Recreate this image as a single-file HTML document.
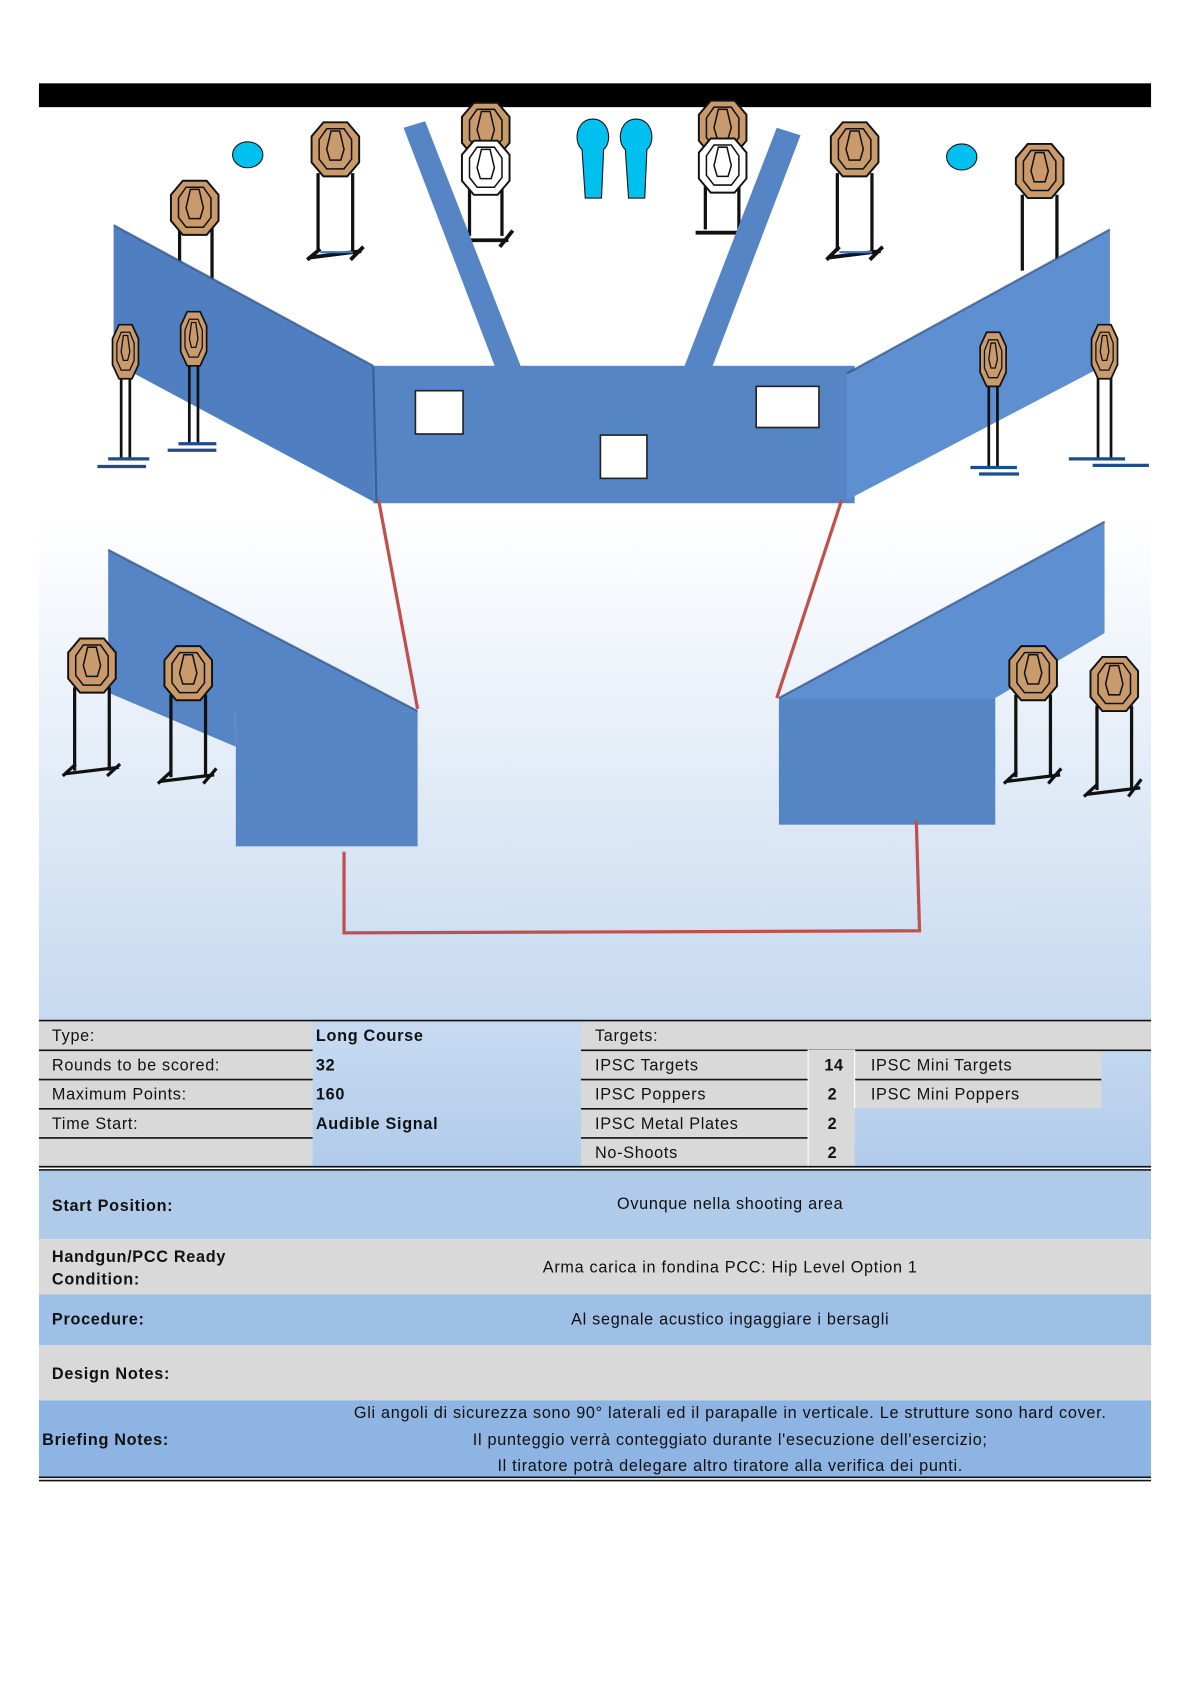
<!DOCTYPE html>
<html><head><meta charset="utf-8"><style>
html,body{margin:0;padding:0;background:#fff;}
svg{display:block;}
text{font-family:"Liberation Sans",Arial,sans-serif;fill:#111;letter-spacing:0.65px;}
</style></head><body>
<svg width="1190" height="1684" viewBox="0 0 1100 1556" preserveAspectRatio="none" xmlns="http://www.w3.org/2000/svg">
<defs>
<linearGradient id="bg" x1="0" y1="0" x2="0" y2="1">
<stop offset="0" stop-color="#ffffff"/>
<stop offset="0.45" stop-color="#ffffff"/>
<stop offset="1" stop-color="#c6d9f0"/>
</linearGradient>
<linearGradient id="tb" x1="0" y1="0" x2="0" y2="1">
<stop offset="0" stop-color="#c8dbf2"/>
<stop offset="1" stop-color="#b0cbea"/>
</linearGradient>
<g id="tg">
<polygon points="-11,-25 11,-25 22,-12 22,12 11,25 -11,25 -22,12 -22,-12" fill="#c99a6c" stroke="#111" stroke-width="1.8"/>
<polygon points="-8,-19 8,-19 15,-9 15,9 8,18 -8,18 -15,9 -15,-9" fill="none" stroke="#111" stroke-width="1.4"/>
<path d="M-4,-17 L4,-17 L8,0 L5,10 L-5,10 L-8,0 Z" fill="none" stroke="#111" stroke-width="1.4"/>
</g>
<g id="ns">
<polygon points="-11,-25 11,-25 22,-12 22,12 11,25 -11,25 -22,12 -22,-12" fill="#fff" stroke="#111" stroke-width="1.8"/>
<polygon points="-8,-19 8,-19 15,-9 15,9 8,18 -8,18 -15,9 -15,-9" fill="none" stroke="#111" stroke-width="1.4"/>
<path d="M-4,-17 L4,-17 L8,0 L5,10 L-5,10 L-8,0 Z" fill="none" stroke="#111" stroke-width="1.4"/>
</g>
<g id="mt">
<polygon points="-6,-25 6,-25 12,-12 12,12 6,25 -6,25 -12,12 -12,-12" fill="#c99a6c" stroke="#111" stroke-width="1.6"/>
<polygon points="-4,-18 4,-18 8,-8 8,8 4,17 -4,17 -8,8 -8,-8" fill="none" stroke="#111" stroke-width="1.2"/>
<path d="M-2,-15 L2,-15 L4,0 L2,8 L-2,8 L-4,0 Z" fill="none" stroke="#111" stroke-width="1.2"/>
</g>
</defs>

<rect x="36" y="99" width="1028" height="845" fill="url(#bg)"/>
<rect x="36" y="77" width="1028" height="22" fill="#000"/>

<g stroke="#111" stroke-width="3" fill="none">
<line x1="166" y1="210" x2="166" y2="260"/><line x1="196" y1="210" x2="196" y2="260"/>
<line x1="294" y1="160" x2="294" y2="232"/><line x1="326" y1="160" x2="326" y2="232"/>
<line x1="434" y1="175" x2="434" y2="218"/><line x1="464" y1="175" x2="464" y2="218"/>
<line x1="652" y1="172" x2="652" y2="212"/><line x1="683" y1="172" x2="683" y2="212"/>
<line x1="774" y1="160" x2="774" y2="232"/><line x1="806" y1="160" x2="806" y2="232"/>
<line x1="945" y1="180" x2="945" y2="250"/><line x1="977" y1="180" x2="977" y2="250"/>
</g>
<g stroke="#111" stroke-width="3.5">
<line x1="286" y1="238" x2="334" y2="232"/><line x1="428" y1="222" x2="470" y2="222"/>
<line x1="643" y1="215" x2="690" y2="215"/><line x1="766" y1="238" x2="814" y2="232"/>
<line x1="284" y1="240" x2="296" y2="230"/><line x1="324" y1="240" x2="336" y2="228"/>
<line x1="462" y1="228" x2="474" y2="213"/><line x1="764" y1="240" x2="776" y2="228"/><line x1="804" y1="240" x2="816" y2="228"/>
</g>
<g stroke="#3a78c9" stroke-width="2"><line x1="296" y1="233" x2="326" y2="233"/><line x1="776" y1="233" x2="806" y2="233"/></g>

<use href="#tg" x="310" y="138"/>
<use href="#tg" x="180" y="192"/>
<use href="#tg" x="449" y="120"/><use href="#ns" x="449" y="155"/>
<use href="#tg" x="668" y="118"/><use href="#ns" x="668" y="153"/>
<use href="#tg" x="790" y="138"/>
<use href="#tg" x="961" y="158"/>

<ellipse cx="229" cy="143" rx="14" ry="12" fill="#00c0f0" stroke="#111" stroke-width="1"/>
<ellipse cx="889" cy="145" rx="14" ry="12" fill="#00c0f0" stroke="#111" stroke-width="1"/>
<path d="M541,183 L538,138 C530,132 532,110 548,110 C564,110 566,132 558,138 L556,183 Z" fill="#00c0f0" stroke="#111" stroke-width="1"/>
<path d="M581,183 L578,138 C570,132 572,110 588,110 C604,110 606,132 598,138 L596,183 Z" fill="#00c0f0" stroke="#111" stroke-width="1"/>

<g fill="#5585c5">
<polygon points="373,118 393,112 482,340 458,340"/>
<polygon points="718,118 740,125 658,340 632,340"/>
<polygon points="105,208 345,338 348,465 105,335" fill="#4f7fc0"/>
<rect x="345" y="338" width="445" height="127"/>
<polygon points="783,345 1026,212 1026,335 783,462" fill="#5e8fd0"/>
<polygon points="100,508 386,657 218,657 218,690 100,640" fill="#5585c5"/>
<rect x="218" y="657" width="168" height="125"/>
<polygon points="720,645 1021,482 1021,585 920,645" fill="#5e8fd0"/>
<rect x="720" y="645" width="200" height="117"/>
</g>
<g stroke="#2d4f80" stroke-width="2" fill="none" opacity="0.7">
<line x1="105" y1="208" x2="345" y2="338"/><line x1="345" y1="338" x2="348" y2="465"/>
<line x1="783" y1="345" x2="1026" y2="212"/><line x1="100" y1="508" x2="386" y2="657"/>
<line x1="720" y1="645" x2="1021" y2="482"/>
</g>
<g fill="#fff" stroke="#222" stroke-width="1.5">
<rect x="384" y="361" width="44" height="40"/>
<rect x="555" y="402" width="43" height="40"/>
<rect x="699" y="357" width="58" height="38"/>
</g>

<g stroke="#111" stroke-width="2.5">
<line x1="112" y1="345" x2="112" y2="425"/><line x1="120" y1="345" x2="120" y2="425"/>
<line x1="175" y1="335" x2="175" y2="410"/><line x1="183" y1="335" x2="183" y2="410"/>
<line x1="914" y1="352" x2="914" y2="432"/><line x1="922" y1="352" x2="922" y2="432"/>
<line x1="1015" y1="345" x2="1015" y2="425"/><line x1="1027" y1="345" x2="1027" y2="425"/>
</g>
<g stroke="#1e4e8a" stroke-width="3">
<line x1="90" y1="431" x2="135" y2="431"/><line x1="100" y1="424" x2="138" y2="424"/>
<line x1="155" y1="416" x2="200" y2="416"/><line x1="165" y1="410" x2="200" y2="410"/>
<line x1="897" y1="432" x2="940" y2="432"/><line x1="905" y1="438" x2="942" y2="438"/>
<line x1="988" y1="424" x2="1040" y2="424"/><line x1="1010" y1="430" x2="1062" y2="430"/>
</g>
<use href="#mt" x="116" y="325"/>
<use href="#mt" x="179" y="313"/>
<use href="#mt" x="918" y="332"/>
<use href="#mt" x="1021" y="325"/>

<g stroke="#111" stroke-width="3">
<line x1="69" y1="635" x2="69" y2="712"/><line x1="101" y1="635" x2="101" y2="712"/>
<line x1="158" y1="642" x2="158" y2="718"/><line x1="190" y1="642" x2="190" y2="718"/>
<line x1="939" y1="642" x2="939" y2="718"/><line x1="971" y1="642" x2="971" y2="718"/>
<line x1="1014" y1="652" x2="1014" y2="730"/><line x1="1046" y1="652" x2="1046" y2="730"/>
<line x1="60" y1="715" x2="110" y2="709"/><line x1="148" y1="722" x2="198" y2="716"/>
<line x1="930" y1="722" x2="980" y2="716"/><line x1="1004" y1="734" x2="1054" y2="728"/>
<line x1="58" y1="717" x2="70" y2="706"/><line x1="99" y1="717" x2="111" y2="706"/>
<line x1="146" y1="724" x2="158" y2="713"/><line x1="188" y1="724" x2="200" y2="710"/>
<line x1="928" y1="724" x2="940" y2="713"/><line x1="969" y1="724" x2="981" y2="710"/>
<line x1="1002" y1="736" x2="1014" y2="725"/><line x1="1043" y1="736" x2="1055" y2="720"/>
</g>
<use href="#tg" x="85" y="615"/>
<use href="#tg" x="174" y="622"/>
<use href="#tg" x="955" y="622"/>
<use href="#tg" x="1030" y="632"/>

<g stroke="#c0504d" stroke-width="3" fill="none">
<line x1="350" y1="462" x2="386" y2="655"/>
<line x1="778" y1="462" x2="718" y2="645"/>
<polyline points="318,787 318,862 850,860 847,758"/>
</g>

<rect x="36" y="943" width="1028" height="136" fill="url(#tb)"/>
<g fill="#d9d9d9">
<rect x="36" y="943" width="253" height="134"/>
<rect x="537" y="943" width="527" height="27"/>
<rect x="537" y="970" width="253" height="107"/>
<rect x="790" y="970" width="228" height="54"/>
</g>
<g stroke="#111" stroke-width="1.5">
<line x1="36" y1="943" x2="1064" y2="943"/>
<line x1="36" y1="970.5" x2="289" y2="970.5"/><line x1="36" y1="997.5" x2="289" y2="997.5"/>
<line x1="36" y1="1024.5" x2="289" y2="1024.5"/><line x1="36" y1="1051.5" x2="289" y2="1051.5"/>
<line x1="537" y1="970.5" x2="1064" y2="970.5"/><line x1="537" y1="997.5" x2="747" y2="997.5"/>
<line x1="537" y1="1024.5" x2="747" y2="1024.5"/><line x1="537" y1="1051.5" x2="747" y2="1051.5"/>
<line x1="790" y1="997.5" x2="1018" y2="997.5"/>
<line x1="36" y1="1078" x2="1064" y2="1078"/><line x1="36" y1="1081" x2="1064" y2="1081"/>
</g>
<rect x="747" y="970" width="43" height="107" fill="#d9d9d9"/>
<g stroke="#fff" stroke-width="1"><line x1="747" y1="970" x2="747" y2="1077"/><line x1="790" y1="970" x2="790" y2="1024"/></g>

<g font-size="15">
<text x="48" y="962">Type:</text>
<text x="48" y="989">Rounds to be scored:</text>
<text x="48" y="1016">Maximum Points:</text>
<text x="48" y="1043">Time Start:</text>
<g font-weight="bold">
<text x="292" y="962">Long Course</text>
<text x="292" y="989">32</text>
<text x="292" y="1016">160</text>
<text x="292" y="1043">Audible Signal</text>
<text x="762" y="989">14</text>
<text x="765" y="1016">2</text>
<text x="765" y="1043">2</text>
<text x="765" y="1070">2</text>
</g>
<text x="550" y="962">Targets:</text>
<text x="550" y="989">IPSC Targets</text>
<text x="550" y="1016">IPSC Poppers</text>
<text x="550" y="1043">IPSC Metal Plates</text>
<text x="550" y="1070">No-Shoots</text>
<text x="805" y="989">IPSC Mini Targets</text>
<text x="805" y="1016">IPSC Mini Poppers</text>
</g>

<rect x="36" y="1082" width="1028" height="63" fill="#b0cbea"/>
<rect x="36" y="1145" width="1028" height="51" fill="#d9d9d9"/>
<rect x="36" y="1196" width="1028" height="47" fill="#9ebfe6"/>
<rect x="36" y="1243" width="1028" height="51" fill="#d9d9d9"/>
<rect x="36" y="1294" width="1028" height="71" fill="#8db4e2"/>
<line x1="36" y1="1365" x2="1064" y2="1365" stroke="#111" stroke-width="1.5"/>
<line x1="36" y1="1368" x2="1064" y2="1368" stroke="#111" stroke-width="1.5"/>

<g font-size="15">
<g font-weight="bold">
<text x="48" y="1119">Start Position:</text>
<text x="48" y="1166">Handgun/PCC Ready</text>
<text x="48" y="1187">Condition:</text>
<text x="48" y="1224">Procedure:</text>
<text x="48" y="1274">Design Notes:</text>
<text x="39" y="1335">Briefing Notes:</text>
</g>
<g text-anchor="middle">
<text x="675" y="1117">Ovunque nella shooting area</text>
<text x="675" y="1176">Arma carica in fondina PCC: Hip Level Option 1</text>
<text x="675" y="1224">Al segnale acustico ingaggiare i bersagli</text>
<text x="675" y="1310">Gli angoli di sicurezza sono 90° laterali ed il parapalle in verticale. Le strutture sono hard cover.</text>
<text x="675" y="1335">Il punteggio verrà conteggiato durante l'esecuzione dell'esercizio;</text>
<text x="675" y="1359">Il tiratore potrà delegare altro tiratore alla verifica dei punti.</text>
</g>
</g>
</svg>
</body></html>
